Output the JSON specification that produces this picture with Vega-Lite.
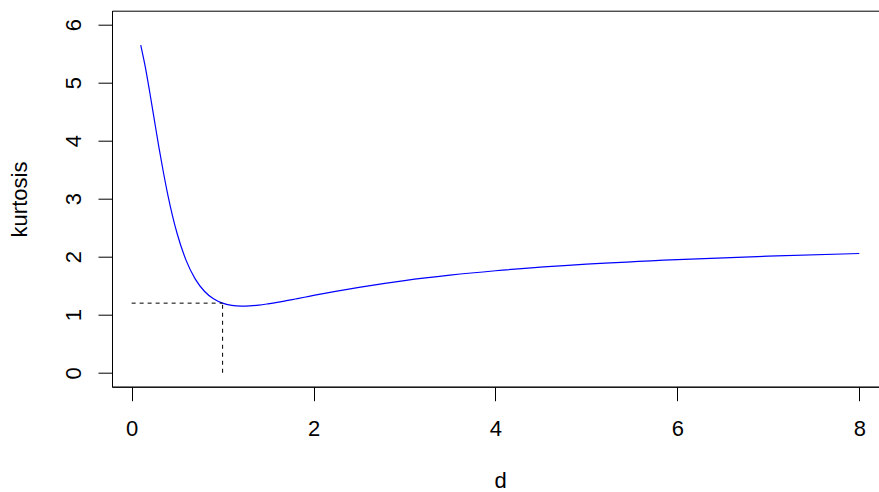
{
  "$schema": "https://vega.github.io/schema/vega-lite/v6.json",
  "width": 776,
  "height": 376,
  "autosize": {"type": "none"},
  "padding": {"left": 112, "top": 10.7, "right": 0, "bottom": 105.3},
  "background": "white",
  "view": {"stroke": "black", "strokeWidth": 1},
  "config": {
    "view": {"stroke": "black", "strokeWidth": 1},
    "font": "Liberation Sans",
    "axis": {
      "grid": false,
      "domainColor": "black",
      "domainWidth": 1,
      "tickColor": "black",
      "tickWidth": 1,
      "tickSize": 14,
      "labelColor": "black",
      "labelFont": "Liberation Sans",
      "labelFontSize": 22,
      "titleFont": "Liberation Sans",
      "titleFontSize": 22,
      "titleFontWeight": "normal",
      "titleColor": "black",
      "labelFlush": false,
      "labelOverlap": false
    }
  },
  "datasets": {
    "curve": [
      {"d": 0.1, "kurtosis": 5.648},
      {"d": 0.15, "kurtosis": 5.272},
      {"d": 0.2, "kurtosis": 4.826},
      {"d": 0.25, "kurtosis": 4.353},
      {"d": 0.3, "kurtosis": 3.885},
      {"d": 0.35, "kurtosis": 3.447},
      {"d": 0.4, "kurtosis": 3.05},
      {"d": 0.45, "kurtosis": 2.701},
      {"d": 0.5, "kurtosis": 2.4},
      {"d": 0.6, "kurtosis": 1.933},
      {"d": 0.7, "kurtosis": 1.614},
      {"d": 0.8, "kurtosis": 1.405},
      {"d": 0.9, "kurtosis": 1.275},
      {"d": 1.0, "kurtosis": 1.2},
      {"d": 1.1, "kurtosis": 1.162},
      {"d": 1.2, "kurtosis": 1.148},
      {"d": 1.3, "kurtosis": 1.152},
      {"d": 1.4, "kurtosis": 1.166},
      {"d": 1.5, "kurtosis": 1.188},
      {"d": 1.6, "kurtosis": 1.213},
      {"d": 1.7, "kurtosis": 1.242},
      {"d": 1.8, "kurtosis": 1.272},
      {"d": 1.9, "kurtosis": 1.302},
      {"d": 2.0, "kurtosis": 1.333},
      {"d": 2.5, "kurtosis": 1.473},
      {"d": 3.0, "kurtosis": 1.589},
      {"d": 3.5, "kurtosis": 1.682},
      {"d": 4.0, "kurtosis": 1.758},
      {"d": 5.0, "kurtosis": 1.871},
      {"d": 6.0, "kurtosis": 1.951},
      {"d": 7.0, "kurtosis": 2.01},
      {"d": 8.0, "kurtosis": 2.056}
    ],
    "guides": [
      {"x": 0, "x2": 1, "y": 1.2, "y2": 1.2},
      {"x": 1, "x2": 1, "y": 0, "y2": 1.2}
    ]
  },
  "layer": [
    {
      "data": {"name": "curve"},
      "mark": {"type": "line", "color": "#0000ff", "strokeWidth": 1.2, "interpolate": "monotone"},
      "encoding": {
        "x": {
          "field": "d", "type": "quantitative",
          "scale": {"domain": [-0.216, 8.316], "nice": false, "zero": false},
          "axis": {
            "orient": "bottom",
            "values": [0, 2, 4, 6, 8],
            "format": "d",
            "title": "d",
            "labelBaseline": "alphabetic",
            "labelPadding": 34.3,
            "titleX": 388,
            "titleY": 101,
            "titleAlign": "center",
            "titleBaseline": "alphabetic"
          }
        },
        "y": {
          "field": "kurtosis", "type": "quantitative",
          "scale": {"domain": [-0.24, 6.24], "nice": false, "zero": false},
          "axis": {
            "orient": "left",
            "values": [0, 1, 2, 3, 4, 5, 6],
            "format": "d",
            "title": "kurtosis",
            "labelAngle": -90,
            "labelAlign": "center",
            "labelBaseline": "alphabetic",
            "labelPadding": 18,
            "titleAngle": -90,
            "titleX": -85.3,
            "titleY": 188.3,
            "titleAlign": "center",
            "titleBaseline": "alphabetic"
          }
        }
      }
    },
    {
      "data": {"name": "guides"},
      "mark": {"type": "rule", "color": "black", "strokeWidth": 1, "strokeDash": [4, 4]},
      "encoding": {
        "x": {"field": "x", "type": "quantitative"},
        "x2": {"field": "x2"},
        "y": {"field": "y", "type": "quantitative"},
        "y2": {"field": "y2"}
      }
    }
  ]
}
